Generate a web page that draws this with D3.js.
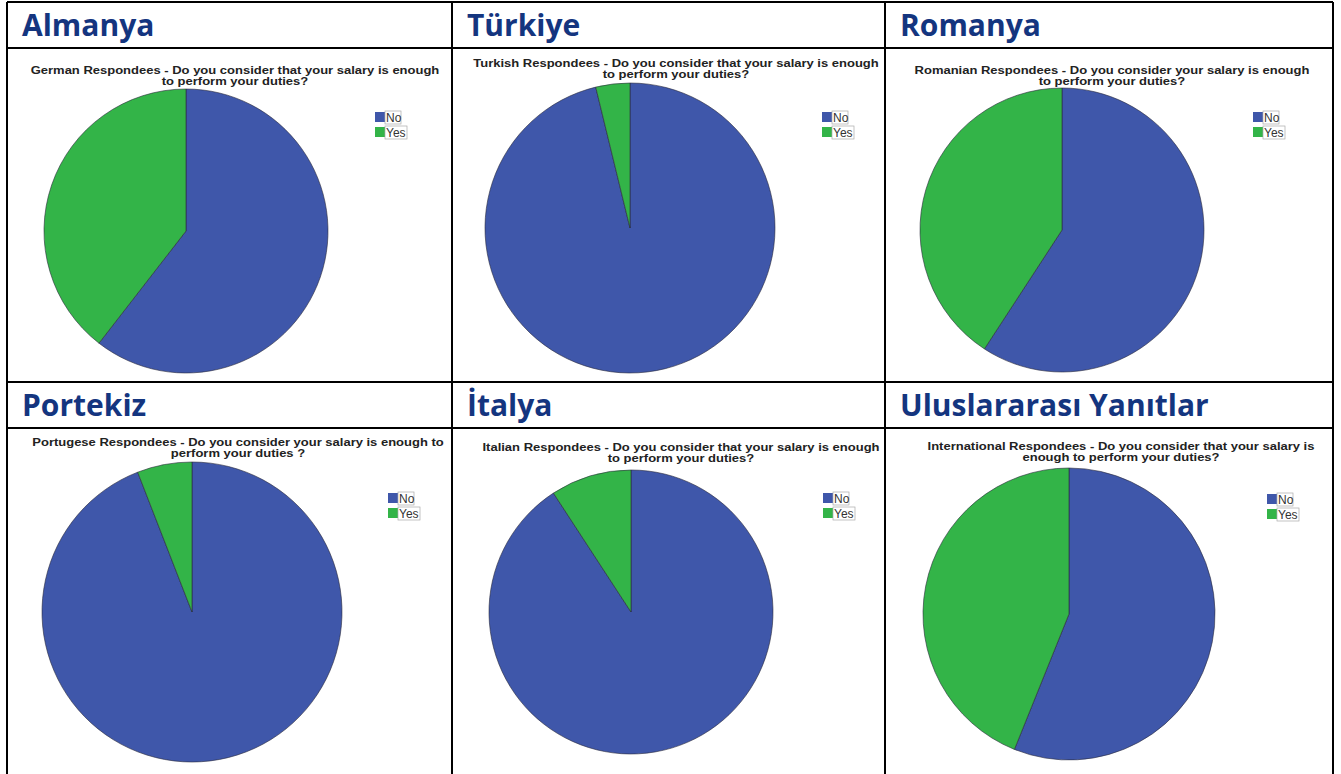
<!DOCTYPE html>
<html>
<head>
<meta charset="utf-8">
<script src="https://cdn.jsdelivr.net/npm/d3@7"></script>
<style>
  body { margin: 0; background: #fff; }
  .head { font-family: "Open Sans", Lato, sans-serif; font-weight: 700; fill: #14357f; }
  .ctitle { font-family: "Liberation Sans", Arial, sans-serif; font-weight: 700; fill: #222; }
  .leg { font-family: "Liberation Sans", Arial, sans-serif; fill: #333; }
</style>
</head>
<body>
<div id="chart"></div>
<script>
// survey answers, % of respondents
var countries = ["Almanya", "Türkiye", "Romanya", "Portekiz", "İtalya", "Uluslararası Yanıtlar"];
var titleLine1 = [
  "German Respondees - Do you consider that your salary is enough",
  "Turkish Respondees - Do you consider that your salary is enough",
  "Romanian Respondees - Do you consider your salary is enough",
  "Portugese Respondees - Do you consider your salary is enough to",
  "Italian Respondees - Do you consider that your salary is enough",
  "International Respondees - Do you consider that your salary is"
];
var titleLine2 = [
  "to perform your duties?",
  "to perform your duties?",
  "to perform your duties?",
  "perform your duties ?",
  "to perform your duties?",
  "enough to perform your duties?"
];
var answers = ["No", "Yes"];
var noValues = [60.5, 96.2, 59.2, 94.1, 90.8, 56.1];
var yesValues = [39.5, 3.8, 40.8, 5.9, 9.2, 43.9];
var colors = ["#3f57aa", "#33b448"];

// page layout (table grid + where each pie sits inside its cell)
var W = 1341, H = 774;
var colX = [7, 452, 885, 1333];
var rowY = [[2, 48], [382, 428]];
var panelPos = [
  {cx: 186, cy: 231, r: 142, tx: 235, ty: 74, lx: 375, ly: 112},
  {cx: 630, cy: 228, r: 145, tx: 676, ty: 67, lx: 822, ly: 112},
  {cx: 1062, cy: 230, r: 142, tx: 1112, ty: 74, lx: 1253, ly: 112},
  {cx: 192, cy: 612, r: 150, tx: 238, ty: 446, lx: 388, ly: 493},
  {cx: 631, cy: 612, r: 142, tx: 681, ty: 451, lx: 823, ly: 493},
  {cx: 1069, cy: 614, r: 146, tx: 1121, ty: 450, lx: 1267, ly: 494}
];

var svg = d3.select("#chart").append("svg")
  .attr("width", W).attr("height", H);
svg.append("rect").attr("width", W).attr("height", H).attr("fill", "#fff");

var pie = d3.pie().sort(null).value(function(d) { return d; });
var color = d3.scaleOrdinal().domain(answers).range(colors);

countries.forEach(function(name, i) {
  var p = panelPos[i];
  var col = i % 3, row = Math.floor(i / 3);
  var g = svg.append("g");

  // header text
  g.append("text").attr("class", "head")
    .attr("x", colX[col] + 15).attr("y", rowY[row][0] + 34)
    .style("font-size", "30px")
    .text(name);

  // chart title (glyphs a little wide, like the original export)
  var t = g.append("g")
    .attr("transform", "translate(" + p.tx + "," + p.ty + ") scale(1.14,1)");
  t.append("text").attr("class", "ctitle")
    .attr("text-anchor", "middle").style("font-size", "11.4px")
    .text(titleLine1[i]);
  t.append("text").attr("class", "ctitle")
    .attr("y", 11)
    .attr("text-anchor", "middle").style("font-size", "11.4px")
    .text(titleLine2[i]);

  var arc = d3.arc().innerRadius(0).outerRadius(p.r);
  g.append("g").attr("transform", "translate(" + p.cx + "," + p.cy + ")")
    .selectAll("path")
    .data(pie([noValues[i], yesValues[i]]))
    .enter().append("path")
    .attr("d", arc)
    .attr("fill", function(d, k) { return color(answers[k]); })
    .attr("stroke", "#2a2a3a")
    .attr("stroke-width", 0.6);

  // legend
  var leg = g.append("g").attr("transform", "translate(" + p.lx + "," + p.ly + ")");
  var items = leg.selectAll("g").data(answers).enter().append("g")
    .attr("transform", function(d, k) { return "translate(0," + k * 15 + ")"; });
  items.append("rect").attr("width", 10).attr("height", 10)
    .attr("fill", function(d) { return color(d); });
  items.append("rect").attr("x", 10).attr("y", -1)
    .attr("width", function(d) { return d === "No" ? 16 : 22; }).attr("height", 13)
    .attr("fill", "none").attr("stroke", "#aaa").attr("stroke-width", 0.7);
  items.append("text").attr("class", "leg")
    .attr("x", 11).attr("y", 10).style("font-size", "12px")
    .text(function(d) { return d; });
});

// table grid
var lines = [];
colX.forEach(function(x) { lines.push([x, rowY[0][0], x, H]); });
[rowY[0][0], rowY[0][1], rowY[1][0], rowY[1][1]].forEach(function(y) {
  lines.push([colX[0], y, colX[3], y]);
});
svg.append("g").selectAll("line").data(lines).enter().append("line")
  .attr("x1", function(d) { return d[0]; }).attr("y1", function(d) { return d[1]; })
  .attr("x2", function(d) { return d[2]; }).attr("y2", function(d) { return d[3]; })
  .attr("stroke", "#000").attr("stroke-width", 2);
</script>
</body>
</html>
